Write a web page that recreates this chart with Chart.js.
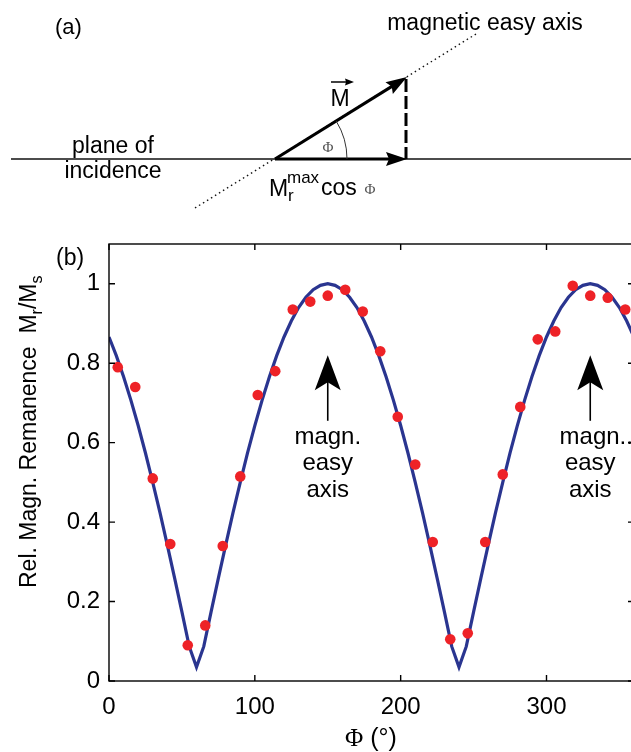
<!DOCTYPE html>
<html>
<head>
<meta charset="utf-8">
<script src="https://cdn.jsdelivr.net/npm/chart.js@4.4.1/dist/chart.umd.min.js"></script>
<style>
  html, body { margin: 0; padding: 0; background: #fff; overflow: hidden; }
  #wrap { position: absolute; left: 0; top: 0; width: 631px; height: 752px; overflow: hidden; }
  canvas { position: absolute; left: 0; top: 0; }
</style>
</head>
<body>
<div id="wrap"><canvas id="c" width="640" height="752"></canvas></div>
<script>
// ---- data ----
const phiCurve = [0,5,10,15,20,25,30,35,40,45,50,55,60,65,70,75,80,85,90,95,100,105,110,115,120,
  125,130,135,140,145,150,155,160,165,170,175,180,185,190,195,200,205,210,215,220,225,230,235,240,
  245,250,255,260,265,270,275,280,285,290,295,300,305,310,315,320,325,330,335,340,345,350,355,360];
const mCurve = [0.866,0.819,0.766,0.707,0.643,0.574,0.500,0.423,0.342,0.259,0.174,0.087,0.035,
  0.087,0.174,0.259,0.342,0.423,0.500,0.574,0.643,0.707,0.766,0.819,0.866,0.906,0.940,0.966,0.985,
  0.996,1.000,0.996,0.985,0.966,0.940,0.906,0.866,0.819,0.766,0.707,0.643,0.574,0.500,0.423,0.342,
  0.259,0.174,0.087,0.035,0.087,0.174,0.259,0.342,0.423,0.500,0.574,0.643,0.707,0.766,0.819,0.866,
  0.906,0.940,0.966,0.985,0.996,1.000,0.996,0.985,0.966,0.940,0.906,0.866];
const phiData = [6,18,30,42,54,66,78,90,102,114,126,138,150,162,174,186,198,210,222,234,246,258,270,282,294,306,318,330,342,354];
const mData = [0.79,0.74,0.51,0.345,0.09,0.14,0.34,0.515,0.72,0.78,0.935,0.955,0.97,0.985,0.93,
  0.83,0.665,0.545,0.35,0.105,0.12,0.35,0.52,0.69,0.86,0.88,0.995,0.97,0.965,0.935];
const xTicks = [0,100,200,300];
const yTicks = [0,0.2,0.4,0.6,0.8,1];
const easyAxisPhi = [150,330];
const easyAxisLabels = [["magn.","easy","axis"],["magn..","easy","axis"]];

const SANS = '"Liberation Sans", Arial, Helvetica, sans-serif';
const SERIF = '"Liberation Serif", "Times New Roman", serif';

function arrowHead(ctx, tx, ty, ang, len, hw, notch) {
  // ang: direction the arrow points
  const c = Math.cos(ang), s = Math.sin(ang);
  const bx = tx - c*len, by = ty - s*len;
  const nx = tx - c*(len-notch), ny = ty - s*(len-notch);
  ctx.beginPath();
  ctx.moveTo(tx, ty);
  ctx.lineTo(bx - s*hw, by + c*hw);
  ctx.lineTo(nx, ny);
  ctx.lineTo(bx + s*hw, by - c*hw);
  ctx.closePath();
  ctx.fill();
}

function txt(ctx, s, x, y, size, align, family, color) {
  ctx.font = size + 'px ' + (family || SANS);
  ctx.textAlign = align || 'left';
  ctx.textBaseline = 'alphabetic';
  ctx.fillStyle = color || '#000';
  ctx.fillText(s, x, y);
  return ctx.measureText(s).width;
}

const decor = {
  id: 'decor',
  afterDraw(chart) {
    const ctx = chart.ctx;
    const a = chart.chartArea;
    const xs = chart.scales.x, ys = chart.scales.y;
    ctx.save();
    // ---- frame ----
    ctx.strokeStyle = '#000';
    ctx.lineWidth = 1.4;
    ctx.strokeRect(a.left, a.top, a.right - a.left, a.bottom - a.top);
    // inward ticks
    const tl = 6;
    ctx.beginPath();
    xTicks.forEach(v => {
      const px = xs.getPixelForValue(v);
      ctx.moveTo(px, a.bottom); ctx.lineTo(px, a.bottom - tl);
      ctx.moveTo(px, a.top); ctx.lineTo(px, a.top + tl);
    });
    yTicks.forEach(v => {
      const py = ys.getPixelForValue(v);
      ctx.moveTo(a.left, py); ctx.lineTo(a.left + tl, py);
      ctx.moveTo(a.right, py); ctx.lineTo(a.right - tl, py);
    });
    ctx.stroke();

    // ---- easy axis annotations ----
    easyAxisPhi.forEach((phi, i) => {
      const x = xs.getPixelForValue(phi);
      const tip = ys.getPixelForValue(0.82);
      const end = ys.getPixelForValue(0.655);
      ctx.fillStyle = '#000';
      ctx.lineWidth = 1.6;
      ctx.beginPath(); ctx.moveTo(x, tip + 20); ctx.lineTo(x, end); ctx.stroke();
      arrowHead(ctx, x, tip, -Math.PI/2, 35, 13, 8);
      const lines = easyAxisLabels[i];
      txt(ctx, lines[0], x + (i === 1 ? 6 : 0), tip + 89, 24, 'center');
      txt(ctx, lines[1], x, tip + 115, 24, 'center');
      txt(ctx, lines[2], x, tip + 142, 24, 'center');
    });

    // ---- panel labels / axis titles ----
    txt(ctx, '(b)', 56, 265, 23, 'left');
    // x title
    let w1;
    ctx.font = '25px ' + SERIF; const wPhi = ctx.measureText('\u03A6').width;
    ctx.font = '25px ' + SANS; const wRest = ctx.measureText(' (\u00B0)').width;
    const x0 = 371 - (wPhi + wRest)/2;
    txt(ctx, '\u03A6', x0, 746, 25, 'left', SERIF);
    txt(ctx, ' (\u00B0)', x0 + wPhi, 746, 25, 'left');
    // y title rotated
    ctx.save();
    ctx.translate(36, 588);
    ctx.rotate(-Math.PI/2);
    let cx = 0;
    cx += txt(ctx, 'Rel. Magn. Remanence  M', cx, 0, 23);
    cx += txt(ctx, 'r', cx, 6, 16);
    cx += txt(ctx, '/M', cx, 0, 23);
    txt(ctx, 's', cx, 6, 16);
    ctx.restore();

    // ---- diagram (a) ----
    txt(ctx, '(a)', 55, 34, 22, 'left');
    ctx.strokeStyle = '#111';
    ctx.lineWidth = 1.3;
    ctx.beginPath(); ctx.moveTo(11, 159); ctx.lineTo(640, 159); ctx.stroke();
    // dotted easy axis
    ctx.lineWidth = 1.4;
    ctx.setLineDash([1.5, 3.2]);
    ctx.beginPath(); ctx.moveTo(195, 208); ctx.lineTo(476, 34); ctx.stroke();
    ctx.setLineDash([]);
    // M vector
    const ox = 275, oy = 159, mx = 407, my = 77;
    const ang = Math.atan2(my - oy, mx - ox);
    ctx.strokeStyle = '#000';
    ctx.fillStyle = '#000';
    ctx.lineWidth = 3;
    ctx.beginPath(); ctx.moveTo(ox, oy); ctx.lineTo(mx - Math.cos(ang)*14, my - Math.sin(ang)*14); ctx.stroke();
    arrowHead(ctx, mx, my, ang, 21, 7, 3);
    // horizontal projection
    ctx.beginPath(); ctx.moveTo(ox, oy); ctx.lineTo(mx - 14, oy); ctx.stroke();
    arrowHead(ctx, mx, oy, 0, 21, 7, 3);
    // dashed vertical
    ctx.setLineDash([13, 4]);
    ctx.lineWidth = 3;
    ctx.beginPath(); ctx.moveTo(mx - 1, my + 2); ctx.lineTo(mx - 1, oy); ctx.stroke();
    ctx.setLineDash([]);
    // angle arc
    ctx.lineWidth = 1;
    ctx.strokeStyle = '#333';
    ctx.beginPath(); ctx.arc(ox, oy, 72, ang, 0); ctx.stroke();
    txt(ctx, '\u03A6', 328, 152, 15, 'center', SERIF, '#555');
    // M label with vector arrow
    txt(ctx, 'M', 340, 106, 23, 'center');
    ctx.strokeStyle = '#000'; ctx.lineWidth = 1.5;
    ctx.beginPath(); ctx.moveTo(331, 82); ctx.lineTo(347, 82); ctx.stroke();
    arrowHead(ctx, 354, 82, 0, 9, 3.5, 1);
    // Mr^max cos Φ
    txt(ctx, 'M', 269, 196, 23, 'left');
    txt(ctx, 'max', 287, 183, 17, 'left');
    txt(ctx, 'r', 288, 201, 17, 'left');
    txt(ctx, 'cos', 321, 195, 23, 'left');
    txt(ctx, '\u03A6', 370, 194, 15, 'center', SERIF, '#555');
    // plane of incidence
    txt(ctx, 'plane of', 113, 153, 23, 'center');
    txt(ctx, 'incidence', 113, 178, 23, 'center');
    txt(ctx, 'magnetic easy axis', 485, 30, 23, 'center');
    ctx.restore();
  }
};

new Chart(document.getElementById('c'), {
  type: 'scatter',
  data: {
    datasets: [
      {
        label: 'data',
        data: phiData.map((p, i) => ({ x: p, y: mData[i] })),
        pointRadius: 5.3,
        pointBackgroundColor: '#ee2227',
        pointBorderWidth: 0,
        showLine: false,
        order: 0
      },
      {
        label: 'fit',
        data: phiCurve.map((p, i) => ({ x: p, y: mCurve[i] })),
        showLine: true,
        borderColor: '#2a3590',
        borderWidth: 3.2,
        pointRadius: 0,
        tension: 0,
        order: 1
      }
    ]
  },
  options: {
    responsive: false,
    animation: false,
    devicePixelRatio: 1,
    layout: { padding: { left: 0, top: 244, right: 6, bottom: 0 } },
    plugins: { legend: { display: false }, tooltip: { enabled: false } },
    scales: {
      x: {
        type: 'linear', min: 0, max: 360,
        afterBuildTicks: s => { s.ticks = xTicks.map(v => ({ value: v })); },
        afterFit: s => { s.height = 71; },
        grid: { display: false, drawTicks: false },
        border: { display: false },
        ticks: { color: '#000', font: { family: SANS, size: 24 }, padding: 12, maxRotation: 0,
                 callback: v => String(v) }
      },
      y: {
        type: 'linear', min: 0, max: 1.1,
        afterBuildTicks: s => { s.ticks = yTicks.map(v => ({ value: v })); },
        afterFit: s => { s.width = 109; },
        grid: { display: false, drawTicks: false },
        border: { display: false },
        ticks: { color: '#000', font: { family: SANS, size: 24 }, padding: 9,
                 callback: v => String(Math.round(v*10)/10) }
      }
    }
  },
  plugins: [decor]
});
</script>
</body>
</html>
